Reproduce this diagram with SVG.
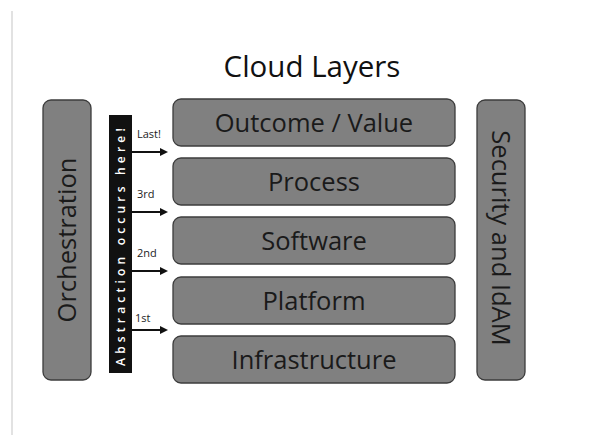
<svg xmlns="http://www.w3.org/2000/svg" width="598" height="435" viewBox="0 0 598 435">
<defs>
<style>
.box{fill:#808080;stroke:#3c3c3c;stroke-width:1.3}
.lbl{font-family:"Open Sans","DejaVu Sans",sans-serif;font-size:25.5px;fill:#1a1a1a;text-anchor:middle}
.sm{font-family:"Open Sans","DejaVu Sans",sans-serif;font-size:11px;fill:#222}
.arr{stroke:#111;stroke-width:2.2;fill:none}
</style>
<marker id="ah" markerWidth="8" markerHeight="8" refX="6" refY="4" orient="auto" markerUnits="userSpaceOnUse">
<path d="M0,0 L8,4 L0,8 Z" fill="#111"/>
</marker>
</defs>
<rect width="598" height="435" fill="#fff"/>
<line x1="12" y1="11" x2="12" y2="435" stroke="#e2e2e2" stroke-width="2"/>
<text x="312" y="77" font-family="'Open Sans','DejaVu Sans',sans-serif" font-size="29.5" fill="#111" text-anchor="middle">Cloud Layers</text>
<g id="orchestration">
<rect class="box" x="43" y="100" width="48" height="280" rx="8"/>
<text class="lbl" transform="translate(76,240) rotate(-90)">Orchestration</text>
</g>
<g id="security">
<rect class="box" x="477" y="100" width="48" height="280" rx="8"/>
<text class="lbl" transform="translate(492,238) rotate(90)">Security and IdAM</text>
</g>
<g id="abstraction">
<rect x="109" y="115" width="23" height="258" fill="#111"/>
<text transform="translate(124.5,245) rotate(-90)" font-family="'Open Sans','DejaVu Sans',sans-serif" font-size="12" font-weight="600" fill="#fff" text-anchor="middle" letter-spacing="4.2">Abstraction occurs here!</text>
</g>
<g id="outcome">
<rect class="box" x="173" y="99" width="282" height="47" rx="8"/>
<text class="lbl" x="314" y="132">Outcome / Value</text>
</g>
<g id="process">
<rect class="box" x="173" y="158" width="282" height="47" rx="8"/>
<text class="lbl" x="314" y="191">Process</text>
</g>
<g id="software">
<rect class="box" x="173" y="217" width="282" height="47" rx="8"/>
<text class="lbl" x="314" y="250">Software</text>
</g>
<g id="platform">
<rect class="box" x="173" y="277" width="282" height="47" rx="8"/>
<text class="lbl" x="314" y="310">Platform</text>
</g>
<g id="infrastructure">
<rect class="box" x="173" y="336" width="282" height="47" rx="8"/>
<text class="lbl" x="314" y="369">Infrastructure</text>
</g>
<g id="connectors">
<line class="arr" x1="132" y1="152" x2="166" y2="152" marker-end="url(#ah)"/>
<line class="arr" x1="132" y1="212" x2="166" y2="212" marker-end="url(#ah)"/>
<line class="arr" x1="132" y1="271" x2="166" y2="271" marker-end="url(#ah)"/>
<line class="arr" x1="132" y1="330" x2="166" y2="330" marker-end="url(#ah)"/>
<text class="sm" x="137" y="138">Last!</text>
<text class="sm" x="137" y="198">3rd</text>
<text class="sm" x="137" y="257">2nd</text>
<text class="sm" x="135" y="322">1st</text>
</g>
</svg>
